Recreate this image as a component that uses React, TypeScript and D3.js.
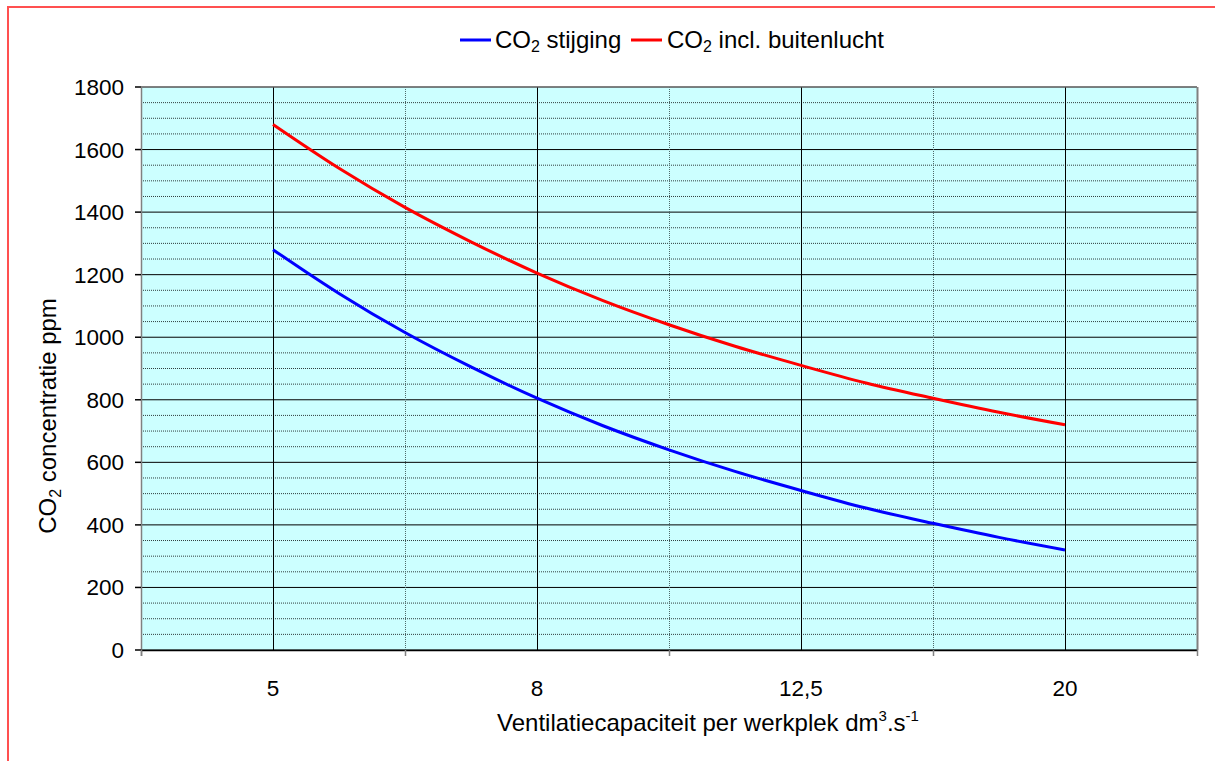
import React from "react";
import * as d3 from "d3";

// Ventilation capacity per workplace (dm3/s), R20 preferred-number steps
const capacities = ["5", "5,6", "6,3", "7,1", "8", "9", "10", "11,2", "12,5", "14", "16", "18", "20"];
// CO2 rise caused by occupants (ppm)
const co2Rise = [1280, 1140, 1015, 905, 805, 717, 640, 571, 510, 453, 405, 360, 320];
// CO2 including outdoor air (ppm)
const co2Total = [1680, 1540, 1415, 1305, 1205, 1117, 1040, 971, 910, 853, 805, 760, 720];
const labelledCapacities = ["5", "8", "12,5", "20"];
const yTicks = [0, 200, 400, 600, 800, 1000, 1200, 1400, 1600, 1800];

const W = 1215;
const H = 761;
const plot = { left: 141, right: 1197, top: 87, bottom: 650 };
const FONT = "'Liberation Sans', Arial, Helvetica, sans-serif";
const TEXT_SIZE = 24;
const TICK_SIZE = 22.5;

export default function App() {
  const x = d3.scaleLinear().domain([-2, capacities.length + 1]).range([plot.left, plot.right]);
  const y = d3.scaleLinear().domain([0, 1800]).range([plot.bottom, plot.top]);

  const line = d3
    .line<number>()
    .x((_, i) => x(i))
    .y((d) => y(d))
    .curve(d3.curveMonotoneX);

  const minorY = d3.range(0, 1801, 50).filter((v) => v % 200 !== 0);
  const gridIdx = d3.range(-2, capacities.length + 2, 2);
  const isLabelled = (i: number) =>
    i >= 0 && i < capacities.length && labelledCapacities.includes(capacities[i]);

  return (
    <svg
      width={W}
      height={H}
      style={{ position: "absolute", left: 0, top: 0, display: "block" }}
      fontFamily={FONT}
    >
      <rect x={0} y={0} width={W} height={H} fill="#fff" />
      {/* outer chart frame */}
      <rect x={8} y={7} width={W + 20} height={H + 20} fill="none" stroke="#ff5050" strokeWidth={2} />

      {/* plot area */}
      <rect
        x={plot.left}
        y={plot.top}
        width={plot.right - plot.left}
        height={plot.bottom - plot.top}
        fill="#ccffff"
      />

      {/* minor horizontal grid */}
      {minorY.map((v) => (
        <line
          key={"mn" + v}
          x1={plot.left}
          x2={plot.right}
          y1={y(v)}
          y2={y(v)}
          stroke="#2f3f3f"
          strokeWidth={1}
          strokeDasharray="1,1"
        />
      ))}
      {/* major horizontal grid */}
      {yTicks.map((v) => (
        <line key={"mj" + v} x1={plot.left} x2={plot.right} y1={y(v)} y2={y(v)} stroke="#000" strokeWidth={1} />
      ))}

      {/* vertical grid */}
      {gridIdx.map((i) => {
        if (i === -2 || i === capacities.length + 1) return null;
        const px = Math.round(x(i)) + 0.5;
        return isLabelled(i) ? (
          <line key={"v" + i} x1={px} x2={px} y1={plot.top} y2={plot.bottom} stroke="#000" strokeWidth={1} />
        ) : (
          <line
            key={"v" + i}
            x1={px}
            x2={px}
            y1={plot.top}
            y2={plot.bottom}
            stroke="#4f6a6a"
            strokeWidth={1}
            strokeDasharray="1,1"
          />
        );
      })}

      {/* plot border */}
      <line x1={plot.right + 0.5} x2={plot.right + 0.5} y1={plot.top} y2={plot.bottom} stroke="#808080" strokeWidth={2} />
      <line x1={plot.left} x2={plot.right} y1={plot.top} y2={plot.top} stroke="#808080" strokeWidth={1} />

      {/* series */}
      <path d={line(co2Rise) ?? ""} fill="none" stroke="#0000ff" strokeWidth={3} strokeLinejoin="round" />
      <path d={line(co2Total) ?? ""} fill="none" stroke="#ff0000" strokeWidth={3} strokeLinejoin="round" />

      {/* y axis */}
      <line x1={plot.left + 0.5} x2={plot.left + 0.5} y1={plot.top} y2={plot.bottom + 6} stroke="#808080" strokeWidth={1.5} />
      {yTicks.map((v) => (
        <g key={"yt" + v}>
          <line x1={plot.left - 6} x2={plot.left} y1={y(v)} y2={y(v)} stroke="#000" strokeWidth={1.5} />
          <text x={plot.left - 17} y={y(v) + 8} textAnchor="end" fontSize={TICK_SIZE} fill="#000">
            {v}
          </text>
        </g>
      ))}

      {/* x axis */}
      <line x1={plot.left} x2={plot.right} y1={plot.bottom + 0.5} y2={plot.bottom + 0.5} stroke="#000" strokeWidth={1.5} />
      {gridIdx
        .filter((i) => !isLabelled(i))
        .map((i) => {
          const px = Math.round(x(i)) + 0.5;
          return <line key={"xt" + i} x1={px} x2={px} y1={plot.bottom} y2={plot.bottom + 6} stroke="#808080" strokeWidth={1.5} />;
        })}
      {capacities.map((c, i) =>
        isLabelled(i) ? (
          <text key={"xl" + c} x={x(i)} y={plot.bottom + 46} textAnchor="middle" fontSize={TICK_SIZE} fill="#000">
            {c}
          </text>
        ) : null
      )}

      {/* axis titles */}
      <text x={708} y={731} textAnchor="middle" fontSize={TEXT_SIZE} fill="#000">
        Ventilatiecapaciteit per werkplek dm
        <tspan dy={-10} fontSize={15}>3</tspan>
        <tspan dy={10}>.s</tspan>
        <tspan dy={-10} fontSize={15}>-1</tspan>
      </text>
      <text transform="translate(56,416) rotate(-90)" textAnchor="middle" fontSize={TEXT_SIZE} fill="#000">
        CO
        <tspan dy={5} fontSize={16}>2</tspan>
        <tspan dy={-5}> concentratie ppm</tspan>
      </text>

      {/* legend */}
      <line x1={460} x2={491} y1={40} y2={40} stroke="#0000ff" strokeWidth={3} />
      <text x={495} y={48} fontSize={TEXT_SIZE} fill="#000">
        CO<tspan dy={4} fontSize={16}>2</tspan>
        <tspan dy={-4}> stijging</tspan>
      </text>
      <line x1={631} x2={662} y1={40} y2={40} stroke="#ff0000" strokeWidth={3} />
      <text x={667} y={48} fontSize={TEXT_SIZE} fill="#000">
        CO<tspan dy={4} fontSize={16}>2</tspan>
        <tspan dy={-4}> incl. buitenlucht</tspan>
      </text>
    </svg>
  );
}
